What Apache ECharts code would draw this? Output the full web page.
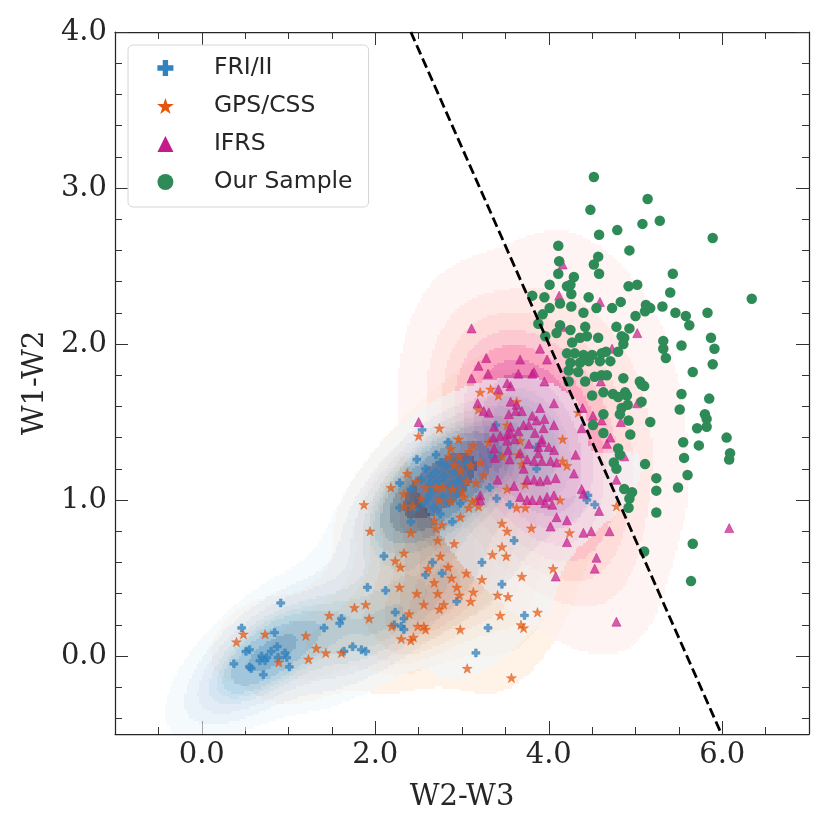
<!DOCTYPE html>
<html>
<head>
  <meta charset="utf-8" />
  <title>W1-W2 vs W2-W3</title>
  <script src="https://cdn.jsdelivr.net/npm/echarts@6/dist/echarts.min.js"></script>
  <style>
    html, body { margin: 0; padding: 0; background: #fff; }
    #main { width: 830px; height: 830px; }
  </style>
</head>
<body>
<div id="main"></div>
<script type="text/javascript">
  // ---- data ----
  var friPoints = [
    [0.91,0.34],[0.46,0.18],[0.84,0.15],[0.51,0.03],[0.55,0.04],[0.37,-0.05],[0.55,-0.07],[0.57,-0.08],
    [0.67,-0.03],[0.69,0.0],[0.75,-0.01],[0.80,0.03],[0.87,0.06],[0.88,-0.01],[0.96,0.02],[0.98,-0.01],
    [0.73,-0.03],[1.01,-0.07],[0.71,-0.12],
    [1.41,0.18],[1.59,0.21],[1.61,0.24],[1.74,0.06],[1.84,0.04],[1.89,0.03],[1.64,0.03],[1.91,0.44],
    [2.12,0.42],[2.23,0.28],[2.30,0.19],[2.33,0.17],[2.33,0.24],
    [2.10,0.64],[2.66,0.60],[2.58,0.52],[2.77,0.53],[3.23,0.60],[3.60,0.74],[3.46,0.46],[2.94,0.35],
    [2.22,0.20],[3.72,0.26],[3.30,0.18],[3.16,0.02],
    [2.54,1.45],[2.84,1.37],[2.48,1.26],[2.70,1.29],[2.75,1.24],[2.64,1.15],[2.53,1.13],[2.28,1.11],
    [2.41,1.07],[2.60,1.01],[2.45,0.94],[2.28,0.95],[2.41,0.86],[2.75,0.91],[2.89,0.86],[2.95,1.04],
    [3.06,1.23],[2.79,1.15],[2.87,1.09],[2.98,0.98],[3.35,1.28],[3.32,1.08],[3.40,1.01],[3.55,0.97],
    [3.86,1.34],[3.86,1.20],[3.44,1.28],[3.39,1.48],[2.65,1.05],[2.72,1.12],[2.56,0.98],[2.85,0.98],
    [2.62,1.10],[2.78,1.02],[2.90,1.18],[2.68,0.95],[2.58,1.20],[2.95,1.12],[2.82,1.22],[2.70,1.18],
    [4.45,1.03],[4.44,1.00],[4.53,0.97]
  ];
  var gpsPoints = [
    [0.48,0.14],[0.40,0.09],[0.73,0.14],[1.20,0.13],[1.32,0.05],[1.23,-0.02],[1.43,0.02],[1.61,0.02],
    [0.89,-0.04],[1.47,0.26],[1.76,0.31],[1.89,0.33],[1.93,0.24],[2.28,0.44],[2.23,0.61],[2.29,0.57],
    [2.19,0.19],[2.30,0.11],[2.39,0.27],
    [2.33,0.66],[2.75,0.64],[2.61,0.56],[2.84,0.57],[3.05,0.53],[2.88,0.50],[2.68,0.47],[3.46,0.70],
    [3.35,0.65],[3.51,0.64],[3.23,0.49],[3.69,0.51],[4.05,0.56],[2.48,0.40],[2.72,0.40],[2.94,0.44],
    [2.97,0.39],[3.13,0.41],[3.10,0.35],[3.41,0.39],[3.53,0.38],[2.56,0.33],[2.79,0.33],[2.74,0.30],
    [2.49,0.19],[2.56,0.19],[2.58,0.17],[2.41,0.10],[2.44,0.12],[2.98,0.17],[3.44,0.26],[3.87,0.28],
    [3.68,0.20],[3.71,0.18],[3.06,-0.08],[3.57,-0.14],
    [2.74,1.46],[2.50,1.41],[3.19,1.58],[2.96,1.39],[3.13,1.35],[3.08,1.31],[2.87,1.33],[2.85,1.28],
    [2.97,1.28],[2.91,1.22],[2.98,1.19],[3.10,1.22],[3.21,1.24],[3.25,1.16],[3.16,1.11],[3.06,1.12],
    [3.00,1.05],[2.89,1.07],[2.77,1.08],[2.70,1.08],[2.58,1.08],[2.47,1.12],[2.37,1.17],[2.33,1.04],
    [2.53,1.01],[2.43,0.96],[2.33,0.96],[2.74,1.00],[2.87,0.99],[3.02,1.02],[3.12,0.99],[3.08,0.95],
    [2.98,0.89],[2.68,0.87],[2.77,0.84],[2.70,0.82],[2.41,0.79],[2.72,0.74],[2.91,0.72],[2.18,1.08],
    [1.87,0.97],[1.94,0.80],[3.31,1.37],[3.46,1.28],[3.67,1.38],[3.65,1.29],[3.69,1.23],[3.52,1.48],
    [3.52,1.07],[3.63,0.95],[3.73,0.95],[3.73,1.10],[3.80,0.82],[3.46,0.85],[3.52,0.80],[3.19,0.96],
    [3.16,1.00],[3.21,1.69],[3.33,1.71],[3.42,1.67],[3.63,1.63],
    [4.34,1.56],[4.16,1.39],[4.16,1.25],[4.21,1.22],[4.13,1.00],[4.78,0.96],[4.24,0.79]
  ];
  var ifrsPoints = [
    [2.50,1.50],[3.18,1.62],[3.25,1.57],[3.31,1.56],[3.56,1.63],[3.63,1.61],[3.62,1.57],[3.69,1.57],
    [3.54,1.55],[3.81,1.54],[3.90,1.59],[4.06,1.62],[3.37,1.47],[3.44,1.41],[3.52,1.42],[3.56,1.47],
    [3.65,1.44],[3.71,1.48],[3.77,1.48],[3.86,1.51],[3.95,1.52],[4.06,1.48],[3.37,1.33],[3.53,1.32],
    [3.55,1.26],[3.77,1.36],[3.88,1.34],[3.88,1.30],[4.00,1.34],[3.75,1.26],[3.83,1.25],[3.92,1.25],
    [4.06,1.32],[4.09,1.24],[3.75,1.13],[3.83,1.13],[3.90,1.12],[3.98,1.13],[4.08,1.14],[3.60,1.09],
    [3.67,1.02],[3.75,1.00],[3.81,1.00],[3.90,1.00],[3.98,1.02],[4.06,1.03],[3.96,0.98],[4.04,0.97],
    [4.02,0.83],[3.21,1.03],[3.21,1.00],[3.41,1.13],[4.21,0.73],[4.08,0.51],
    [4.16,2.51],[4.12,2.31],[4.59,2.27],
    [3.11,2.10],[3.28,1.91],[3.19,1.86],[3.30,1.81],[3.11,1.78],[3.67,1.90],[3.90,1.97],[3.98,1.90],
    [3.65,1.81],[3.83,1.82],[3.81,1.81],[3.95,1.76],[3.52,1.75],[3.56,1.73],[3.42,1.71],[4.73,1.97],
    [4.60,1.76],[5.02,2.07],[4.16,2.11],
    [5.02,1.62],[4.83,1.50],[4.61,1.51],[4.71,1.40],[4.67,1.36],[4.87,1.28],[4.78,1.13],[4.58,0.93],
    [4.51,1.54],[4.38,1.46],[4.31,1.29],[4.29,1.17],[4.38,1.07],[4.40,1.04],[4.09,0.89],[4.21,0.87],
    [4.40,0.79],[4.49,0.80],[4.70,0.80],[4.55,0.63],[4.53,0.56],[3.94,1.46],[3.92,1.39],[6.08,0.82],
    [4.39,1.59],[4.78,0.22],
    [4.02,1.25],[3.92,1.37],[3.84,1.43],[3.71,1.20],[3.67,1.30],[3.52,1.38],[3.36,1.40],[3.61,1.39],
    [3.56,1.43],[3.38,1.27]
  ];
  var ourPoints = [
    [4.52,3.07],[5.14,2.93],[4.48,2.86],[5.08,2.77],[5.28,2.79],[4.58,2.70],[4.79,2.73],[5.89,2.68],
    [4.11,2.63],[4.93,2.60],[4.57,2.56],[4.52,2.51],[4.12,2.53],[4.11,2.45],[4.58,2.45],[4.29,2.43],
    [4.01,2.38],[4.21,2.37],[4.25,2.38],[4.26,2.32],[5.43,2.45],[4.92,2.37],[5.02,2.38],[5.40,2.33],
    [6.34,2.29],[3.81,2.31],[3.95,2.30],[4.01,2.23],[4.13,2.26],[4.26,2.24],[4.46,2.30],[4.55,2.23],
    [4.40,2.20],[4.73,2.23],[4.83,2.27],[5.12,2.25],[5.11,2.21],[5.17,2.23],[5.00,2.18],[5.31,2.24],
    [5.46,2.20],[5.58,2.18],[5.83,2.20],[3.93,2.19],[3.88,2.13],[4.13,2.12],[4.42,2.11],[4.78,2.11],
    [4.93,2.10],[5.62,2.12],
    [4.27,2.01],[4.21,1.94],[4.30,1.94],[4.40,1.93],[4.50,1.93],[4.61,1.94],[4.80,1.95],[4.25,1.88],
    [4.36,1.88],[4.46,1.89],[4.59,1.89],[4.71,1.89],[4.23,1.83],[4.34,1.82],[4.42,1.76],[4.23,1.76],
    [4.53,1.79],[4.61,1.80],[4.67,1.80],[4.86,1.78],[5.05,1.76],[5.07,1.74],[4.50,1.67],[4.63,1.69],
    [4.74,1.68],[4.88,1.69],[4.90,1.67],[5.07,1.63],[3.96,2.05],[4.25,2.09],[4.44,2.05],[4.57,2.04],
    [4.84,2.05],[4.86,2.00],[4.09,2.07],[4.36,2.04],
    [4.87,2.04],[4.66,1.95],[5.32,2.02],[5.32,1.97],[5.35,1.91],[5.53,1.99],[5.87,2.04],[5.91,1.97],
    [5.89,1.87],[5.66,1.82],[5.10,1.73],[4.80,1.66],[4.91,1.61],[4.84,1.59],[4.82,1.55],[5.53,1.68],
    [5.85,1.65],[5.51,1.58],[5.80,1.55],[5.82,1.52],[5.82,1.47],[5.71,1.46],[4.92,1.51],[5.17,1.50],
    [4.63,1.55],[4.63,1.43],[4.94,1.42],[6.05,1.40],[5.55,1.37],[5.73,1.35],[6.09,1.30],[6.08,1.26],
    [4.80,1.33],[4.82,1.29],[5.56,1.27],[5.11,1.23],[4.75,1.24],[4.78,1.20],[5.60,1.16],[5.24,1.14],
    [5.24,1.06],[5.49,1.08],[4.87,1.07],[4.96,1.05],[4.93,1.01],[4.92,0.95],[5.24,0.92],
    [4.51,1.48],[5.66,0.72],[5.10,0.67],[5.64,0.48]
  ];
  // dashed dividing line, end points in data units
  var dividerLine = [[2.41, 4.0], [5.99, -0.5]];

  var xMajorTicks = [0, 2, 4, 6];
  var xMinorTicks = [-0.5, 0.5, 1, 1.5, 2.5, 3, 3.5, 4.5, 5, 5.5, 6.5];
  var yMajorTicks = [0, 1, 2, 3, 4];
  var yMinorTicks = [-0.4, -0.2, 0.2, 0.4, 0.6, 0.8, 1.2, 1.4, 1.6, 1.8, 2.2, 2.4, 2.6, 2.8, 3.2, 3.4, 3.6, 3.8];

  // ---- styling ----
  var X_MIN = -1, X_MAX = 7, Y_MIN = -0.5, Y_MAX = 4.0;
  var BLUES = ['#f7fbff','#deebf7','#c6dbef','#9ecae1','#6baed6','#4292c6','#2171b5','#08519c','#08306b'];
  var ORANGES = ['#fff5eb','#fee6ce','#fdd0a2','#fdae6b','#fd8d3c','#f16913','#d94801','#a63603','#7f2704'];
  var RDPU = ['#fff7f3','#fde0dd','#fcc5c0','#fa9fb5','#f768a1','#dd3497','#ae017e','#7a0177','#49006a'];
  var AXIS_COLOR = '#262626';

  var PLUS = 'path://M1,0H2V1H3V2H2V3H1V2H0V1H1Z';
  var TRIANGLE = 'path://M0,-1L1,1L-1,1Z';
  function starPath() {
    var s = 'path://';
    for (var i = 0; i < 10; i++) {
      var r = i % 2 === 0 ? 1 : 0.381966;
      var a = -Math.PI / 2 + i * Math.PI / 5;
      s += (i === 0 ? 'M' : 'L') + (r * Math.cos(a)).toFixed(4) + ',' + (r * Math.sin(a)).toFixed(4);
    }
    return s + 'Z';
  }
  var STAR = starPath();

  // ---- gaussian KDE (scott bandwidth, like scipy / seaborn) ----
  function makeKde(points, bwAdjust) {
    var n = points.length, mx = 0, my = 0;
    points.forEach(function (p) { mx += p[0]; my += p[1]; });
    mx /= n; my /= n;
    var sxx = 0, syy = 0, sxy = 0;
    points.forEach(function (p) {
      var dx = p[0] - mx, dy = p[1] - my;
      sxx += dx * dx; syy += dy * dy; sxy += dx * dy;
    });
    var f = Math.pow(n, -1 / 6) * bwAdjust;
    var a = sxx / (n - 1) * f * f, d = syy / (n - 1) * f * f, b = sxy / (n - 1) * f * f;
    var det = a * d - b * b;
    var ia = d / det, id = a / det, ib = -b / det;
    var norm = 1 / (2 * Math.PI * Math.sqrt(det) * n);
    return {
      bwx: Math.sqrt(a), bwy: Math.sqrt(d),
      at: function (x, y) {
        var s = 0;
        for (var i = 0; i < n; i++) {
          var dx = x - points[i][0], dy = y - points[i][1];
          var q = ia * dx * dx + 2 * ib * dx * dy + id * dy * dy;
          if (q < 60) s += Math.exp(-0.5 * q);
        }
        return s * norm;
      }
    };
  }

  function hexToRgb(h) {
    return [parseInt(h.substr(1, 2), 16), parseInt(h.substr(3, 2), 16), parseInt(h.substr(5, 2), 16)];
  }
  function cmapAt(stops, t) {
    t = Math.max(0, Math.min(1, t));
    var pos = t * (stops.length - 1), i = Math.min(Math.floor(pos), stops.length - 2), u = pos - i;
    var c0 = hexToRgb(stops[i]), c1 = hexToRgb(stops[i + 1]);
    return c0.map(function (v, k) { return Math.round(v + (c1[k] - v) * u); });
  }

  function kdeBands(points, bwAdjust, stops, alpha) {
    var k = makeKde(points, bwAdjust);
    var xs = points.map(function (p) { return p[0]; }), ys = points.map(function (p) { return p[1]; });
    var gx0 = Math.min.apply(null, xs) - 3 * k.bwx, gx1 = Math.max.apply(null, xs) + 3 * k.bwx;
    var gy0 = Math.min.apply(null, ys) - 3 * k.bwy, gy1 = Math.max.apply(null, ys) + 3 * k.bwy;
    var G = 200, vals = [];
    for (var i = 0; i < G; i++) {
      for (var j = 0; j < G; j++) {
        vals.push(k.at(gx0 + (gx1 - gx0) * i / (G - 1), gy0 + (gy1 - gy0) * j / (G - 1)));
      }
    }
    var sorted = vals.slice().sort(function (a, b) { return b - a; });
    var total = 0; sorted.forEach(function (v) { total += v; });
    var cum = [], run = 0;
    sorted.forEach(function (v) { run += v; cum.push(run / total); });
    var levels = [];
    for (var l = 0; l < 10; l++) {
      var prop = 0.05 + 0.95 * l / 9, target = 1 - prop, idx = 0;
      while (idx < cum.length - 1 && cum[idx] < target - 1e-12) idx++;
      levels.push(sorted[idx]);
    }
    var colors = [];
    for (var bnd = 0; bnd < 9; bnd++) {
      var mid = (levels[bnd] + levels[bnd + 1]) / 2;
      var c = cmapAt(stops, (mid - levels[0]) / (levels[9] - levels[0]));
      colors.push('rgba(' + c[0] + ',' + c[1] + ',' + c[2] + ',' + alpha + ')');
    }
    var NX = 280, NY = 280, dx = (X_MAX - X_MIN) / NX, dy = (Y_MAX - Y_MIN) / NY;
    var runs = [];
    for (var r = 0; r < NY; r++) {
      var y0 = Y_MIN + r * dy, yc = y0 + dy / 2, cur = -1, start = 0;
      for (var cc = 0; cc <= NX; cc++) {
        var band = -1;
        if (cc < NX) {
          var v = k.at(X_MIN + (cc + 0.5) * dx, yc);
          for (var m = 9; m >= 0; m--) { if (v >= levels[m]) { band = Math.min(m, 8); break; } }
        }
        if (band !== cur) {
          if (cur >= 0) runs.push([X_MIN + start * dx, X_MIN + cc * dx, y0, y0 + dy, cur]);
          cur = band; start = cc;
        }
      }
    }
    return { runs: runs, colors: colors };
  }

  function kdeSeries(name, bands, z) {
    return {
      name: name,
      type: 'custom',
      silent: true,
      clip: true,
      z: z,
      data: bands.runs,
      renderItem: function (params, api) {
        var a = api.coord([api.value(0), api.value(3)]);
        var b = api.coord([api.value(1), api.value(2)]);
        var x = Math.round(a[0]), y = Math.round(a[1]);
        return {
          type: 'rect',
          shape: { x: x, y: y, width: Math.round(b[0]) - x, height: Math.round(b[1]) - y },
          style: { fill: bands.colors[api.value(4)] }
        };
      }
    };
  }

  var gpsBands = kdeBands(gpsPoints, 1.0, ORANGES, 0.75);
  var ifrsBands = kdeBands(ifrsPoints, 2.0, RDPU, 0.62);
  var friBands = kdeBands(friPoints, 1.0, BLUES, 0.6);

  function fmt(v) { return v.toFixed(1); }
  function axis(kind, pos, ticks, len, main) {
    var isX = kind === 'x';
    return {
      type: 'value',
      position: pos,
      min: isX ? X_MIN : Y_MIN,
      max: isX ? X_MAX : Y_MAX,
      splitLine: { show: false },
      axisLine: { show: main, onZero: false, lineStyle: { color: AXIS_COLOR, width: 1.25 } },
      axisTick: { show: true, inside: true, length: len, customValues: ticks, lineStyle: { color: '#333', width: 1 } },
      axisLabel: { show: false }
    };
  }
  var xBottom = axis('x', 'bottom', xMajorTicks, 13, true);
  xBottom.axisLabel = {
    show: true, customValues: xMajorTicks, formatter: fmt, margin: 7,
    fontFamily: 'DejaVu Serif', fontSize: 29, color: AXIS_COLOR
  };
  xBottom.name = 'W2-W3';
  xBottom.nameLocation = 'middle';
  xBottom.nameGap = 49;
  xBottom.nameTextStyle = { fontFamily: 'DejaVu Serif', fontSize: 29, color: AXIS_COLOR };

  var yLeft = axis('y', 'left', yMajorTicks, 13, true);
  yLeft.axisLabel = {
    show: true, customValues: yMajorTicks, formatter: fmt, margin: 8,
    fontFamily: 'DejaVu Serif', fontSize: 29, color: AXIS_COLOR
  };
  yLeft.name = 'W1-W2';
  yLeft.nameLocation = 'middle';
  yLeft.nameGap = 62;
  yLeft.nameTextStyle = { fontFamily: 'DejaVu Serif', fontSize: 29, color: AXIS_COLOR };

  var chart = echarts.init(document.getElementById('main'), null, { renderer: 'canvas' });
  chart.setOption({
    animation: false,
    backgroundColor: '#fff',
    grid: { left: 115, top: 32, width: 694, height: 702, containLabel: false, outerBoundsMode: 'none' },
    xAxis: [
      xBottom,
      axis('x', 'bottom', xMinorTicks, 7, false),
      axis('x', 'top', xMajorTicks, 13, true),
      axis('x', 'top', xMinorTicks, 7, false)
    ],
    yAxis: [
      yLeft,
      axis('y', 'left', yMinorTicks, 7, false),
      axis('y', 'right', yMajorTicks, 13, true),
      axis('y', 'right', yMinorTicks, 7, false)
    ],
    legend: {
      data: [
        { name: 'FRI/II', icon: PLUS },
        { name: 'GPS/CSS', icon: STAR },
        { name: 'IFRS', icon: TRIANGLE },
        { name: 'Our Sample', icon: 'circle' }
      ],
      orient: 'vertical',
      left: 128,
      top: 45,
      itemWidth: 47,
      itemHeight: 16,
      itemGap: 14,
      padding: [11, 16, 13, 29],
      borderColor: '#d6d6d6',
      borderWidth: 1,
      borderRadius: 5,
      backgroundColor: 'rgba(255,255,255,0.8)',
      selectedMode: false,
      itemStyle: { opacity: 1, borderWidth: 0 },
      textStyle: { fontFamily: 'DejaVu Sans', fontSize: 23.5, color: AXIS_COLOR, padding: [0, 0, 0, 20] }
    },
    series: [
      kdeSeries('GPS/CSS density', gpsBands, 1),
      kdeSeries('IFRS density', ifrsBands, 1),
      kdeSeries('FRI/II density', friBands, 1),
      {
        name: 'FRI/II', type: 'scatter', data: friPoints, symbol: PLUS, symbolSize: 8, z: 5,
        itemStyle: { color: '#3182bd', opacity: 0.75, borderColor: '#3182bd', borderWidth: 0.6 }
      },
      {
        name: 'GPS/CSS', type: 'scatter', data: gpsPoints, symbol: STAR, symbolSize: 10, symbolKeepAspect: true, z: 5,
        itemStyle: { color: '#e6550d', opacity: 0.7, borderColor: '#e6550d', borderWidth: 0.6 }
      },
      {
        name: 'IFRS', type: 'scatter', data: ifrsPoints, symbol: 'triangle', symbolSize: 9, z: 5,
        itemStyle: { color: '#c51b8a', opacity: 0.7, borderColor: '#c51b8a', borderWidth: 0.8 }
      },
      {
        name: 'Our Sample', type: 'scatter', data: ourPoints, symbol: 'circle', symbolSize: 10.5, z: 6,
        itemStyle: { color: '#2e8b57', opacity: 1 }
      },
      {
        name: 'divider', type: 'line', data: dividerLine, symbol: 'none', z: 8, silent: true,
        lineStyle: { color: '#000', width: 2.8, type: [10, 4.5] }
      }
    ]
  });
</script>
</body>
</html>
